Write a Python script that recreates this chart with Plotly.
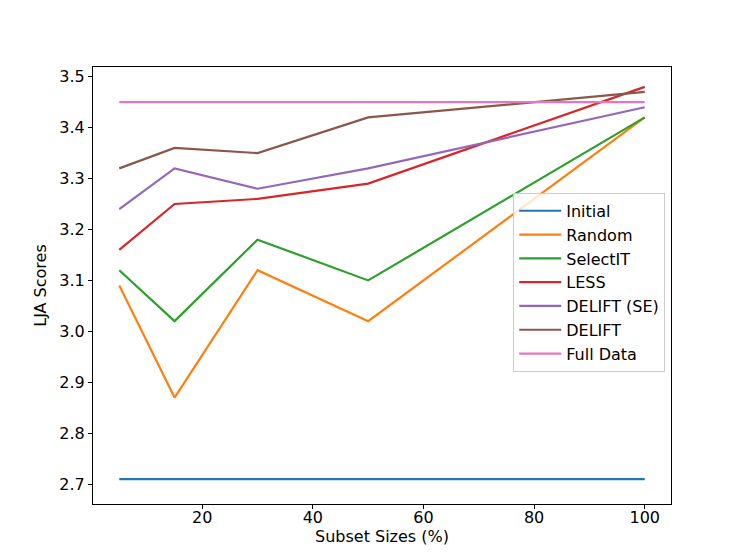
import plotly.graph_objects as go

subset_sizes = [5, 15, 30, 50, 100]
initial = [2.71, 2.71, 2.71, 2.71, 2.71]
random_sel = [3.09, 2.87, 3.12, 3.02, 3.42]
selectit = [3.12, 3.02, 3.18, 3.10, 3.42]
less = [3.16, 3.25, 3.26, 3.29, 3.48]
delift_se = [3.24, 3.32, 3.28, 3.32, 3.44]
delift = [3.32, 3.36, 3.35, 3.42, 3.47]
full_data = [3.45, 3.45, 3.45, 3.45, 3.45]

series_names = ["Initial", "Random", "SelectIT", "LESS", "DELIFT (SE)", "DELIFT", "Full Data"]
series_vals = [initial, random_sel, selectit, less, delift_se, delift, full_data]
colors = ["#1f77b4", "#ff7f0e", "#2ca02c", "#d62728", "#9467bd", "#8c564b", "#e377c2"]

fig = go.Figure()
for name, vals, c in zip(series_names, series_vals, colors):
    fig.add_trace(go.Scatter(x=subset_sizes, y=vals, mode="lines", name=name,
                             line=dict(color=c, width=2.2)))

axis_common = dict(showline=True, linecolor="black", linewidth=1.2, mirror=True,
                   ticks="outside", ticklen=4, tickwidth=1.2, tickcolor="black",
                   showgrid=False, zeroline=False,
                   tickfont=dict(family="DejaVu Sans", size=16, color="black"))

fig.update_layout(
    width=747, height=560,
    paper_bgcolor="white", plot_bgcolor="white",
    margin=dict(l=93, r=76, t=67, b=56),
    font=dict(family="DejaVu Sans", size=16, color="black"),
    xaxis=dict(range=[0.25, 104.75], tickvals=[20, 40, 60, 80, 100],
               ticklabelstandoff=-5,
               title=dict(text="Subset Sizes (%)", standoff=4, font=dict(size=16)),
               **axis_common),
    yaxis=dict(range=[2.661, 3.519], tickvals=[2.7, 2.8, 2.9, 3.0, 3.1, 3.2, 3.3, 3.4, 3.5],
               tickformat=".1f",
               title=dict(text="LJA Scores", standoff=8, font=dict(size=16)),
               **axis_common),
    legend=dict(x=0.99, y=0.712, xanchor="right", yanchor="top",
                bgcolor="rgba(255,255,255,0.8)", bordercolor="#cccccc", borderwidth=1,
                font=dict(family="DejaVu Sans", size=16), tracegroupgap=0, itemwidth=42),
    showlegend=True,
)

fig.write_html("out.html", config={"displayModeBar": False},
               post_script="document.body.style.margin='0';")
